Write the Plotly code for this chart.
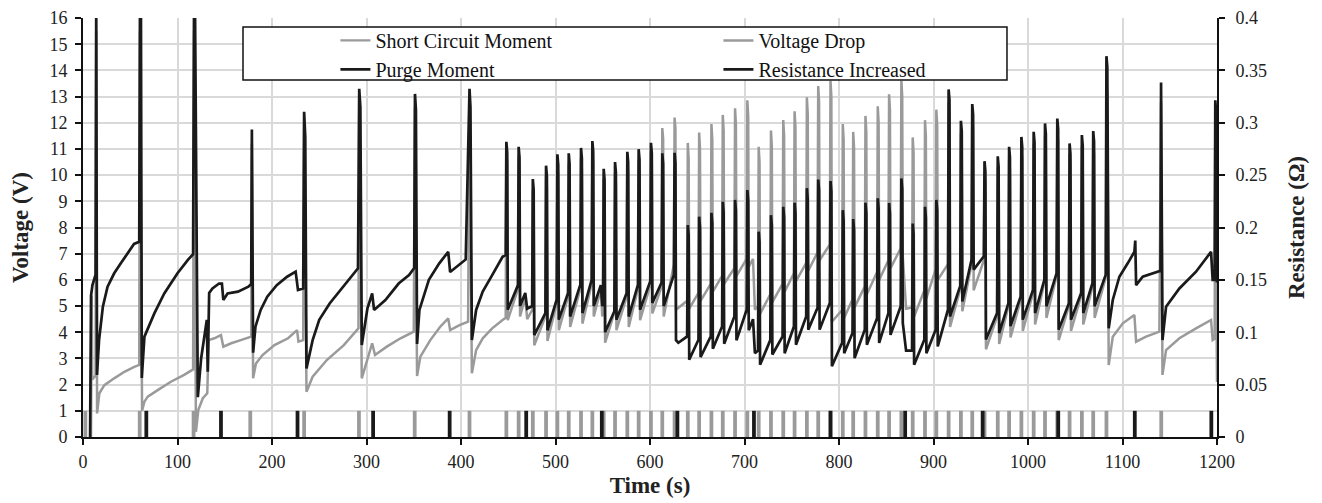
import plotly.graph_objects as go

# ---------------- Voltage Drop (gray line, left axis, V) ----------------
vd_time = [
    8.5, 9.2, 9.8, 13.3, 14, 14.9, 17.3, 22.6, 33, 43.8, 54.3, 59.5, 60.3, 62.5, 65, 68.5,
    79, 93, 107, 116.5, 117.5, 119.5, 122, 126.8, 131.5, 133, 139, 146, 148.5, 156.8, 167,
    178, 178.7, 180, 183, 190, 202.6, 217, 226.5, 228, 233, 234, 236.5, 243, 258, 276,
    291.5, 292.3, 295, 300.5, 306, 309, 321.5, 336, 350, 351.3, 353.5, 357, 367.5, 378,
    386.5, 388.5, 398.5, 407.5, 409, 411.5, 416, 423, 433, 444,
    447.3, 448, 448.9, 449.5,
    460.3, 461, 461.9, 462.5, 468, 470,
    475.3, 476, 476.9, 477.5,
    489.3, 490, 490.9, 491.5,
    501.3, 502, 502.9, 503.5,
    513.3, 514, 514.9, 515.5,
    526.3, 527, 527.9, 528.5,
    538.3, 539, 539.9, 540.5, 548, 549.5,
    550.3, 551, 551.9, 552.5,
    562.3, 563, 563.9, 564.5,
    575.3, 576, 576.9, 577.5,
    587.3, 588, 588.9, 589.5,
    600.3, 601, 601.9, 602.5,
    612.3, 613, 613.9, 614.5,
    625.3, 626, 626.9, 627.5,
    639.3, 640, 640.9, 641.5,
    651.3, 652, 652.9, 653.5,
    664.3, 665, 665.9, 666.5,
    676.3, 677, 677.9, 678.5,
    689.3, 690, 690.9, 691.5,
    702.3, 703, 703.9, 704.5, 709, 711,
    714.3, 715, 715.9, 716.5,
    727.3, 728, 728.9, 729.5,
    740.3, 741, 741.9, 742.5,
    752.3, 753, 753.9, 754.5,
    765.3, 766, 766.9, 767.5,
    777.3, 778, 778.9, 779.5,
    790.3, 791, 791.9, 792.5,
    803.3, 804, 804.9, 805.5,
    814.3, 815, 815.9, 816.5,
    827.3, 828, 828.9, 829.5,
    840.3, 841, 841.9, 842.5,
    852.3, 853, 853.9, 854.5,
    865.3, 866, 866.9, 867.5, 871,
    877.3, 878, 878.9, 879.5,
    890.3, 891, 891.9, 892.5,
    902.3, 903, 903.9, 904.5,
    915.3, 916, 916.9, 917.5,
    928.3, 929, 929.9, 930.5,
    940.3, 941, 941.9, 942.5,
    953.3, 954, 954.9, 955.5,
    967.3, 968, 968.9, 969.5,
    979.3, 980, 980.9, 981.5,
    992.3, 993, 993.9, 994.5,
    1005.3, 1006, 1006.9, 1007.5,
    1017.3, 1018, 1018.9, 1019.5,
    1030.3, 1031, 1031.9, 1032.5,
    1043.3, 1044, 1044.9, 1045.5,
    1056.3, 1057, 1057.9, 1058.5,
    1068.3, 1069, 1069.9, 1070.5,
    1082.3, 1083, 1083.9, 1085.4,
    1089.7, 1100.3, 1112.6, 1114.4, 1124.9, 1139, 1140.8, 1142.3, 1146.1, 1160.2,
    1177.8, 1193.7, 1195.4, 1197.5, 1198.2, 1199.2, 1200,
]
vd_voltage = [
    0, 5.4, 2.2, 2.35, 15.5, 0.9, 1.67, 1.98, 2.24, 2.49, 2.68, 2.75, 15.5, 1.0, 1.35, 1.54,
    1.79, 2.11, 2.37, 2.58, 15.5, 0.2, 1.03, 1.48, 1.67, 3.7, 3.77, 3.89, 3.45, 3.58, 3.7,
    3.83, 11.2, 2.24, 2.81, 3.13, 3.51, 3.77, 4.08, 3.64, 3.7, 12.0, 1.73, 2.3, 2.94, 3.51,
    4.15, 12.8, 2.24, 2.94, 3.58, 3.13, 3.45, 3.77, 4.02, 12.6, 2.33, 3.07, 3.7, 4.21,
    4.53, 4.08, 4.27, 4.4, 12.8, 2.43, 3.32, 3.77, 4.15, 4.47,
    4.55, 10.9, 10.5, 4.46,
    5.65, 10.7, 10.3, 4.6, 5.35, 4.5,
    4.85, 9.45, 9.05, 3.5,
    4.6, 9.95, 9.55, 3.67,
    5.1, 10.4, 10.0, 4.08,
    5.35, 10.45, 10.05, 4.2,
    5.67, 10.65, 10.25, 4.33,
    5.85, 10.9, 10.5, 4.6, 5.65, 4.6,
    4.95, 9.85, 9.45, 3.6,
    4.75, 10.1, 9.7, 4.08,
    5.35, 10.5, 10.1, 4.2,
    5.67, 10.6, 10.2, 4.46,
    5.8, 10.85, 10.45, 4.72,
    5.75, 11.8, 11.4, 4.6,
    6.6, 12.2, 11.8, 4.86,
    5.2, 11.23, 10.6, 4.9,
    5.5, 11.63, 11.0, 5.2,
    5.85, 11.95, 11.35, 5.55,
    6.15, 12.3, 11.7, 5.85,
    6.45, 12.55, 11.95, 6.15,
    6.8, 12.86, 12.25, 6.5, 6.8, 4.86,
    5.0, 11.08, 10.5, 4.7,
    5.45, 11.7, 11.1, 5.15,
    5.85, 12.1, 11.5, 5.55,
    6.25, 12.44, 11.85, 5.95,
    6.65, 12.97, 12.35, 6.35,
    7.05, 13.4, 12.8, 6.75,
    7.35, 13.6, 13.0, 4.4,
    4.85, 11.95, 11.35, 4.55,
    5.25, 11.65, 11.05, 4.95,
    5.75, 12.26, 11.65, 5.45,
    6.3, 12.63, 12.0, 6.0,
    6.75, 13.09, 12.5, 6.45,
    7.2, 13.6, 13.0, 6.9, 4.9,
    4.95, 11.44, 10.85, 4.6,
    5.6, 12.1, 11.5, 5.3,
    6.4, 12.5, 11.9, 6.0,
    6.6, 12.8, 12.4, 4.2,
    5.65, 11.6, 11.2, 4.8,
    6.6, 12.2, 11.8, 5.6,
    6.75, 10.1, 9.7, 3.35,
    4.6, 10.3, 9.9, 3.55,
    5.0, 10.6, 10.2, 3.8,
    5.25, 11.0, 10.6, 4.05,
    5.5, 11.2, 10.8, 4.3,
    5.9, 11.5, 11.1, 4.55,
    6.15, 11.7, 11.3, 3.7,
    5.0, 10.8, 10.4, 4.05,
    5.4, 11.1, 10.7, 4.3,
    5.75, 11.2, 10.8, 4.55,
    6.1, 13.5, 13.1, 2.75,
    3.83, 4.34, 4.66, 3.64, 3.83, 4.02, 12.8, 2.37, 3.32, 3.77,
    4.15, 4.47, 3.7, 3.75, 12.0, 4.0, 2.1,
]

# ------------- Resistance Increased (black line, right axis, ohm) -------------
ri_time = [
    7.5, 8.5, 10, 12, 13.3, 14, 14.8, 17, 21, 26, 33, 40, 47, 54, 59.5, 60.3, 61.3, 62.2,
    65, 66.5, 70, 75.5, 86, 100, 111, 116.5, 117.5, 118.5, 121.5, 125, 131, 132, 133.5,
    137, 144, 147, 148.5, 153, 164, 175, 178, 178.7, 180, 182.5, 188, 195, 205, 216, 225,
    227.5, 233, 234, 235.2, 236.5, 243, 250, 261, 275, 291, 292.3, 293.5, 295, 298, 301,
    306, 308, 320, 334, 345, 350.5, 351.3, 352.3, 353.5, 356, 366, 377, 386.5, 388.5, 405,
    409, 410, 411.5, 416, 423, 433, 444,
    447.3, 448, 448.9, 449.5,
    460.3, 461, 461.9, 462.5, 468, 470,
    475.3, 476, 476.9, 477.5,
    489.3, 490, 490.9, 491.5,
    501.3, 502, 502.9, 503.5,
    513.3, 514, 514.9, 515.5,
    526.3, 527, 527.9, 528.5,
    538.3, 539, 539.9, 540.5, 548, 549.5,
    550.3, 551, 551.9, 552.5,
    562.3, 563, 563.9, 564.5,
    575.3, 576, 576.9, 577.5,
    587.3, 588, 588.9, 589.5,
    600.3, 601, 601.9, 602.5,
    612.3, 613, 613.9, 614.5,
    625.3, 626, 626.9, 627.5, 630,
    639.3, 640, 640.9, 641.5,
    651.3, 652, 652.9, 653.5,
    664.3, 665, 665.9, 666.5,
    676.3, 677, 677.9, 678.5,
    689.3, 690, 690.9, 691.5,
    702.3, 703, 703.9, 704.5, 709, 711,
    714.3, 715, 715.9, 716.5,
    727.3, 728, 728.9, 729.5,
    740.3, 741, 741.9, 742.5,
    752.3, 753, 753.9, 754.5,
    765.3, 766, 766.9, 767.5,
    777.3, 778, 778.9, 779.5,
    790.3, 791, 791.9, 792.5,
    803.3, 804, 804.9, 805.5,
    814.3, 815, 815.9, 816.5,
    827.3, 828, 828.9, 829.5,
    840.3, 841, 841.9, 842.5,
    852.3, 853, 853.9, 854.5,
    865.3, 866, 866.9, 867.5, 871,
    877.3, 878, 878.9, 879.5,
    890.3, 891, 891.9, 892.5,
    902.3, 903, 903.9, 904.5,
    915.3, 916, 916.9, 917.5,
    928.3, 929, 929.9, 930.5,
    940.3, 941, 941.9, 942.5,
    953.3, 954, 954.9, 955.5,
    967.3, 968, 968.9, 969.5,
    979.3, 980, 980.9, 981.5,
    992.3, 993, 993.9, 994.5,
    1005.3, 1006, 1006.9, 1007.5,
    1017.3, 1018, 1018.9, 1019.5,
    1030.3, 1031, 1031.9, 1032.5,
    1043.3, 1044, 1044.9, 1045.5,
    1056.3, 1057, 1057.9, 1058.5,
    1068.3, 1069, 1069.9, 1070.5,
    1082.3, 1083, 1083.9, 1085.4,
    1089.7, 1096.7, 1105.5, 1112.6, 1113.5, 1114.4, 1121.4, 1137.3, 1140.2, 1140.8,
    1142.3, 1146.1, 1160.2, 1177.8, 1193.7, 1195.4, 1197.5, 1198.2, 1199.2, 1200,
]
ri_resistance = [
    0, 0.135, 0.145, 0.1515, 0.155, 0.415, 0.0593, 0.0925, 0.1243, 0.1435, 0.1563, 0.1658,
    0.175, 0.1843, 0.1863, 0.415, 0.415, 0.0563,
    0.0958, 0.0988, 0.1075, 0.118, 0.137, 0.1563, 0.169, 0.1745, 0.415, 0.415, 0.038,
    0.075, 0.1118, 0.0623, 0.1375,
    0.1418, 0.1465, 0.1465, 0.1308, 0.137, 0.1388, 0.1435, 0.146, 0.2935, 0.0805, 0.1053,
    0.1213, 0.134, 0.145, 0.153, 0.1578,
    0.1403, 0.1418, 0.3105, 0.2865, 0.0655, 0.0925, 0.1118, 0.1275, 0.1435, 0.161,
    0.3325, 0.315, 0.0878, 0.105, 0.1228,
    0.137, 0.1213, 0.1308, 0.1465, 0.1545, 0.1613, 0.3275, 0.3125, 0.0888, 0.1213, 0.15,
    0.1658, 0.1768, 0.1575, 0.1695,
    0.3325, 0.315, 0.0925, 0.1213, 0.1388, 0.1545, 0.172,
    0.1738, 0.2818, 0.2718, 0.1215,
    0.145, 0.277, 0.267, 0.125, 0.1375, 0.1225,
    0.125, 0.2463, 0.2363, 0.0973,
    0.1183, 0.259, 0.249, 0.1018,
    0.1313, 0.2698, 0.2598, 0.112,
    0.1375, 0.2708, 0.2608, 0.115,
    0.1455, 0.276, 0.266, 0.1183,
    0.15, 0.2825, 0.2725, 0.125, 0.145, 0.125,
    0.1275, 0.256, 0.246, 0.1,
    0.12, 0.2625, 0.2525, 0.112,
    0.1375, 0.2723, 0.2623, 0.115,
    0.1455, 0.2748, 0.2648, 0.1215,
    0.1488, 0.2808, 0.2708, 0.128,
    0.1475, 0.2708, 0.2608, 0.125,
    0.155, 0.2713, 0.2613, 0.0925, 0.09,
    0.096, 0.2023, 0.1923, 0.0738,
    0.0928, 0.2103, 0.2003, 0.0763,
    0.096, 0.214, 0.204, 0.0843,
    0.1055, 0.2245, 0.2145, 0.089,
    0.115, 0.2263, 0.2163, 0.0923,
    0.1215, 0.2358, 0.2258, 0.1018, 0.1125, 0.08,
    0.0825, 0.196, 0.186, 0.069,
    0.0925, 0.2118, 0.2018, 0.0788,
    0.096, 0.2198, 0.2098, 0.08,
    0.1055, 0.2235, 0.2135, 0.088,
    0.115, 0.2375, 0.2275, 0.1025,
    0.1233, 0.2458, 0.2358, 0.1025,
    0.128, 0.2443, 0.2343, 0.0675,
    0.09, 0.2165, 0.2065, 0.08,
    0.0993, 0.208, 0.198, 0.0753,
    0.1025, 0.2235, 0.2135, 0.088,
    0.1135, 0.2278, 0.2178, 0.0898,
    0.1183, 0.2233, 0.2133, 0.0975,
    0.1248, 0.2468, 0.2368, 0.1088, 0.0825,
    0.0825, 0.2038, 0.1938, 0.069,
    0.0928, 0.2198, 0.2098, 0.08,
    0.1025, 0.2263, 0.2163, 0.0865,
    0.1215, 0.3318, 0.3218, 0.115,
    0.1443, 0.3018, 0.2918, 0.1293,
    0.1693, 0.3178, 0.3078, 0.1598,
    0.1725, 0.2633, 0.2533, 0.093,
    0.1183, 0.268, 0.258, 0.0993,
    0.1278, 0.277, 0.267, 0.1058,
    0.1343, 0.2865, 0.2765, 0.112,
    0.1405, 0.2913, 0.2813, 0.1183,
    0.15, 0.2993, 0.2893, 0.1248,
    0.1565, 0.304, 0.294, 0.1025,
    0.1278, 0.2803, 0.2703, 0.112,
    0.1375, 0.2883, 0.2783, 0.1183,
    0.147, 0.292, 0.282, 0.1248,
    0.155, 0.3635, 0.3535, 0.1038,
    0.1308, 0.153, 0.1658, 0.1768, 0.1875, 0.145, 0.153, 0.1578, 0.1588, 0.3385,
    0.0925, 0.1243, 0.1418, 0.1578, 0.1768, 0.15, 0.15, 0.3215, 0.3075, 0.1475,
]

# ---------------- Event flags (left axis, 0/1) ----------------
sc_time = [
    2.5, 60, 117, 177, 234, 292, 351, 409,
    448, 461, 476, 490, 502, 514, 527, 539, 551, 563, 576, 588, 601, 613, 626,
    640, 652, 665, 677, 690, 703, 715, 728, 741, 753, 766, 778, 791, 804, 815,
    828, 841, 853, 866, 878, 891, 903, 916, 929, 941, 954, 968, 980, 993, 1006,
    1018, 1031, 1044, 1057, 1069, 1083, 1141,
]
sc_flag = [
    1, 1, 1, 1, 1, 1, 1, 1,
    1, 1, 1, 1, 1, 1, 1, 1, 1, 1, 1, 1, 1, 1, 1,
    1, 1, 1, 1, 1, 1, 1, 1, 1, 1, 1, 1, 1, 1, 1,
    1, 1, 1, 1, 1, 1, 1, 1, 1, 1, 1, 1, 1, 1, 1,
    1, 1, 1, 1, 1, 1, 1,
]
purge_time = [67, 146, 227, 307, 388, 469, 549, 629, 710, 791, 870, 952, 1032, 1113, 1194]
purge_flag = [1, 1, 1, 1, 1, 1, 1, 1, 1, 1, 1, 1, 1, 1, 1]

assert len(vd_time) == len(vd_voltage), (len(vd_time), len(vd_voltage))
assert len(ri_time) == len(ri_resistance), (len(ri_time), len(ri_resistance))
assert len(sc_time) == len(sc_flag), (len(sc_time), len(sc_flag))
assert len(purge_time) == len(purge_flag)

GRAY = "#9a9a9a"
BLACK = "#1a1a1a"
FONT = "Liberation Serif"

fig = go.Figure()
fig.add_trace(go.Bar(x=sc_time, y=sc_flag, width=4, marker=dict(color=GRAY, line=dict(width=0)),
                     showlegend=False, hoverinfo="skip"))
fig.add_trace(go.Bar(x=purge_time, y=purge_flag, width=4, marker=dict(color=BLACK, line=dict(width=0)),
                     showlegend=False, hoverinfo="skip"))
fig.add_trace(go.Scatter(x=vd_time, y=vd_voltage, mode="lines", line=dict(color=GRAY, width=2.5),
                         name="Voltage Drop", legendrank=2))
fig.add_trace(go.Scatter(x=ri_time, y=ri_resistance, yaxis="y2", mode="lines",
                         line=dict(color=BLACK, width=2.7), name="Resistance Increased", legendrank=4))
# legend entries for the event flags
fig.add_trace(go.Scatter(x=[None], y=[None], mode="lines", line=dict(color=GRAY, width=2.3),
                         name="Short Circuit Moment", legendrank=1))
fig.add_trace(go.Scatter(x=[None], y=[None], mode="lines", line=dict(color=BLACK, width=2.7),
                         name="Purge Moment", legendrank=3))

axis_common = dict(
    ticks="outside", ticklen=6, tickwidth=1.5, tickcolor="#111",
    showline=True, linecolor="#111", linewidth=2, automargin=False,
    zeroline=False, tickfont=dict(family=FONT, size=18, color="#222"),
)

fig.update_layout(
    width=1314, height=495,
    margin=dict(l=75, r=105, t=10, b=66),
    paper_bgcolor="white", plot_bgcolor="white",
    barmode="overlay",
    font=dict(family=FONT, size=18, color="#222"),
    showlegend=True,
    legend=dict(orientation="h", x=0.2226, y=0.993, xanchor="left", yanchor="top",
                entrywidth=338, entrywidthmode="pixels",
                font=dict(family=FONT, size=20, color="#111"),
                bgcolor="rgba(0,0,0,0)", borderwidth=0, traceorder="normal"),
    shapes=[dict(type="rect", xref="paper", yref="paper", x0=0.1411, x1=0.8148,
                 y0=0.852, y1=0.9785, line=dict(color="#111", width=1.5),
                 fillcolor="white", layer="above")],
    xaxis=dict(range=[0, 1200], dtick=100, tick0=0, showgrid=True, gridcolor="#d9d9d9",
               gridwidth=1.5, ticklabelstandoff=1,
               title=dict(text="<b>Time (s)</b>", font=dict(family=FONT, size=23, color="#222"),
                          standoff=6),
               **axis_common),
    yaxis=dict(range=[0, 16], dtick=1, tick0=0, showgrid=True, gridcolor="#d9d9d9",
               gridwidth=1.5, ticklabelstandoff=4,
               title=dict(text="<b>Voltage (V)</b>", font=dict(family=FONT, size=23, color="#222"),
                          standoff=17),
               **axis_common),
    yaxis2=dict(overlaying="y", side="right", range=[0, 0.4], dtick=0.05, tick0=0,
                showgrid=False, ticklabelstandoff=7,
                title=dict(text="<b>Resistance (Ω)</b>", font=dict(family=FONT, size=23, color="#222"),
                           standoff=22),
                **axis_common),
)

fig.write_html("out.html")
